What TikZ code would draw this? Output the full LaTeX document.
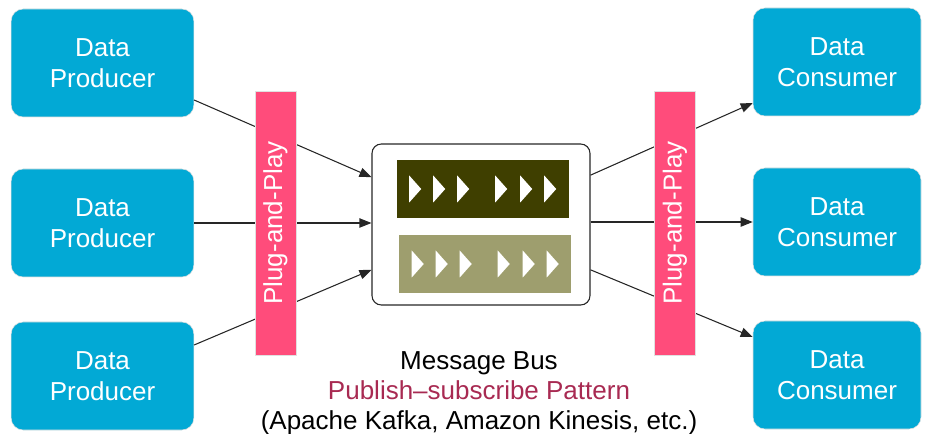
\documentclass[tikz,border=0pt]{standalone}
\usepackage{fontspec}
\setmainfont{Liberation Sans}
\usetikzlibrary{arrows.meta}
\definecolor{boxblue}{HTML}{02A9D5}
\definecolor{plugpink}{HTML}{FF4C7B}
\definecolor{busdark}{HTML}{3F3F00}
\definecolor{buslight}{HTML}{9E9E6E}
\definecolor{pattern}{HTML}{A82A52}
\begin{document}
\begin{tikzpicture}[x=0.75pt, y=-0.75pt,
		endpoint/.style={rounded corners=9pt, fill=boxblue, draw=black!12, text=white,
			minimum width=137pt, minimum height=81pt, align=center,
			font=\fontsize{19.5}{23.5}\selectfont},
		plugbar/.style={fill=plugpink, draw=black!12, minimum width=31pt, minimum height=198pt},
		queue/.style={minimum width=129pt, minimum height=43.5pt},
		link/.style={-{Triangle[length=9pt, width=7pt]}, thick, black!85}]
	\useasboundingbox (0,0) rectangle (927,434);
	
	% producers (left) and consumers (right)
	\node[endpoint] (p1) at (102.5,63) {Data\\Producer};
	\node[endpoint] (p2) at (102.5,223) {Data\\Producer};
	\node[endpoint] (p3) at (102.5,376) {Data\\Producer};
	\node[endpoint, minimum width=126pt] (c1) at (837,62) {Data\\Consumer};
	\node[endpoint, minimum width=126pt] (c2) at (837,222) {Data\\Consumer};
	\node[endpoint, minimum width=126pt] (c3) at (837,375) {Data\\Consumer};
	
	% message bus with its two queues
	\node[draw=black!85, thick, rounded corners=7pt, minimum width=163.5pt, minimum height=120.75pt] (bus) at (481,224.5) {};
	\node[queue, fill=busdark] (q1) at (482.5,189) {};
	\node[queue, fill=buslight] (q2) at (485,264) {};
	\foreach \o in {13,37,61,99,124,148} {
		\fill[white] ([xshift=\o*0.75pt]q1.west) ++(0,-13.5) -- ++(12,13.5) -- ++(-12,13.5) -- cycle;
		\fill[white] ([xshift=\o*0.75pt]q2.west) ++(0,-13.5) -- ++(12,13.5) -- ++(-12,13.5) -- cycle;
	}
	
	% connectors into and out of the bus
	\draw[link] ([yshift=-27.75pt]p1.east) -- ([yshift=35.5pt]bus.west);
	\draw[link] (p2.east) -- (p2.east -| bus.west);
	\draw[link] ([yshift=23.25pt]p3.east) -- ([yshift=-34pt]bus.west);
	\draw[link] ([yshift=37pt]bus.east) -- ([yshift=-30.75pt]c1.west);
	\draw[link] (c2.west -| bus.east) -- (c2.west);
	\draw[link] ([yshift=-34pt]bus.east) -- ([yshift=28.5pt]c3.west);
	
	% plug-and-play bars on top of the connectors
	\node[plugbar] (plugin) at (275.5,223) {};
	\node[plugbar] (plugout) at (675,223) {};
	\node[rotate=90, text=white, font=\fontsize{19.5}{23}\selectfont] at (plugin) {Plug-and-Play};
	\node[rotate=90, text=white, font=\fontsize{19.5}{23}\selectfont] at (plugout) {Plug-and-Play};
	
	% caption
	\node[align=center, font=\fontsize{19.5}{22.5}\selectfont] (caption) at (479,393)
		{Message Bus\\\textcolor{pattern}{Publish--subscribe Pattern}\\(Apache Kafka, Amazon Kinesis, etc.)};
\end{tikzpicture}
\end{document}
